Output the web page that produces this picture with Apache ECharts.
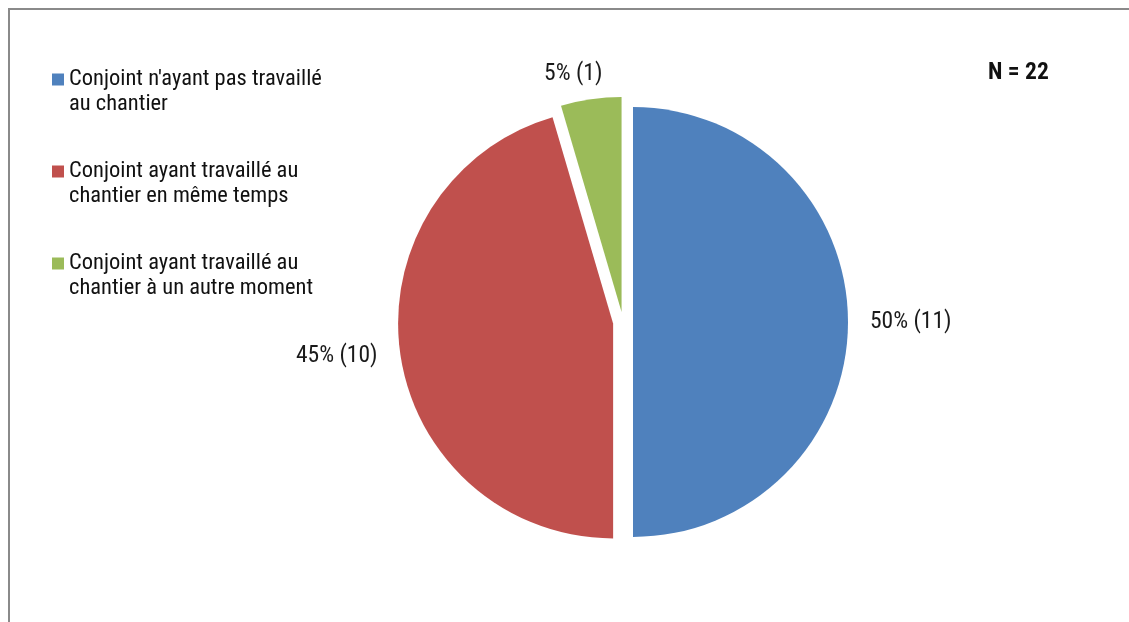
<!DOCTYPE html>
<html>
<head>
<meta charset="utf-8">
<title>Conjoint et chantier</title>
<script src="https://cdn.jsdelivr.net/npm/echarts@6/dist/echarts.min.js"></script>
<style>
  html, body { margin: 0; padding: 0; background: #ffffff; }
  #chart { width: 1129px; height: 622px; }
</style>
</head>
<body>
<div id="chart"></div>
<script>
// Categories (legend wraps on the embedded line break) and counts, N = 22
const categories = [
  "Conjoint n'ayant pas travaillé\nau chantier",
  "Conjoint ayant travaillé au\nchantier en même temps",
  "Conjoint ayant travaillé au\nchantier à un autre moment"
];
const counts = [11, 10, 1];
const sliceColors = ['#4F81BD', '#C0504D', '#9BBB59'];
const totalLabel = 'N = 22';

// Per-slice label distance from the arc (outside labels, no leader lines)
const labelLines = [
  { length: 17, length2: 0 },
  { length: 18, length2: 0 },
  { length: 25, length2: -20 }
];

const FONT = "'Roboto Condensed', 'Open Sans', sans-serif";

const chart = echarts.init(document.getElementById('chart'), null, { renderer: 'canvas' });

chart.setOption({
  animation: false,
  backgroundColor: '#ffffff',
  color: sliceColors,
  graphic: [{
    type: 'rect',
    silent: true,
    shape: { x: 9, y: 9, width: 1300, height: 800 },
    style: { fill: 'none', stroke: '#8a8a8a', lineWidth: 2 }
  }],
  title: {
    text: totalLabel,
    left: 988,
    top: 61,
    padding: 0,
    textStyle: {
      fontFamily: FONT,
      fontSize: 23.5,
      fontWeight: 'bold',
      color: '#111111',
      lineHeight: 25
    }
  },
  legend: {
    orient: 'vertical',
    left: 52,
    top: 42,
    padding: 0,
    itemWidth: 12,
    itemHeight: 12,
    itemGap: 17,
    icon: 'rect',
    selectedMode: false,
    data: categories,
    // a leading empty line keeps the swatch level with the first text line
    formatter: name => '\n' + name,
    textStyle: {
      fontFamily: FONT,
      fontSize: 22.5,
      lineHeight: 25,
      color: '#111111'
    }
  },
  series: [{
    type: 'pie',
    center: [623, 322],
    radius: 215,
    startAngle: 90,
    clockwise: true,
    selectedMode: 'multiple',
    selectedOffset: 10,
    avoidLabelOverlap: false,
    percentPrecision: 0,
    silent: true,
    emphasis: { scale: false },
    label: {
      show: true,
      position: 'outside',
      fontFamily: FONT,
      fontSize: 23.5,
      color: '#1a1a1a',
      formatter: p => p.percent + '% (' + p.value + ')'
    },
    labelLine: { show: false },
    data: categories.map((name, i) => ({
      name: name,
      value: counts[i],
      selected: true,
      labelLine: { show: false, length: labelLines[i].length, length2: labelLines[i].length2 }
    }))
  }]
});
</script>
</body>
</html>
